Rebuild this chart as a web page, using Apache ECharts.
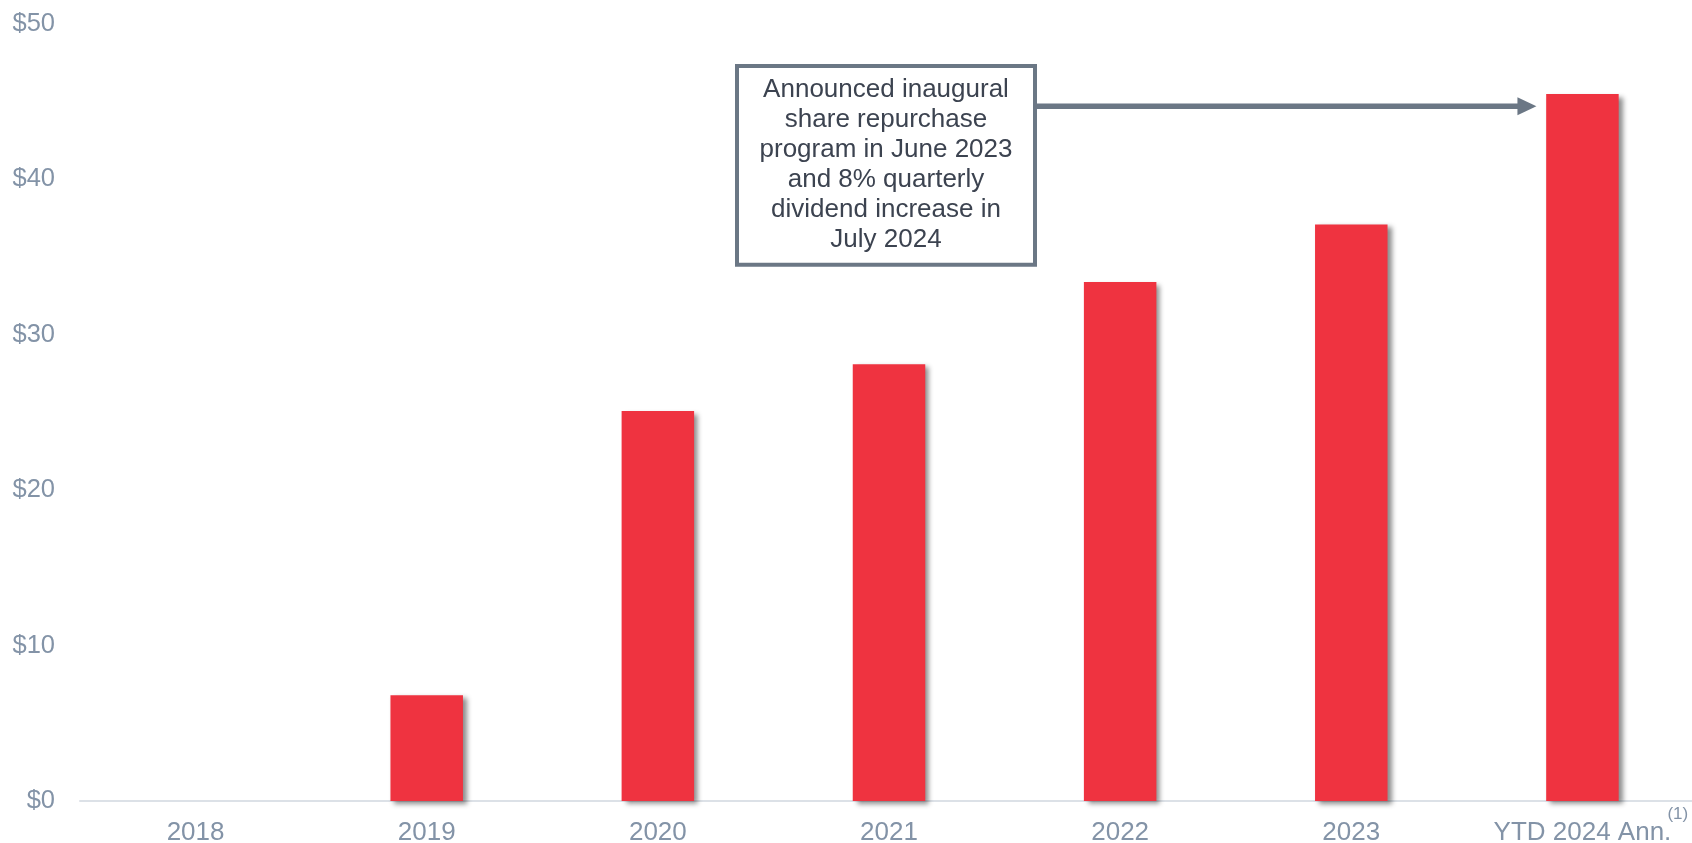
<!DOCTYPE html>
<html><head><meta charset="utf-8">
<script src="https://cdn.jsdelivr.net/npm/echarts@6/dist/echarts.min.js"></script>
<style>html,body{margin:0;padding:0;background:#fff}#c{width:1692px;height:843px}</style>
</head><body><div id="c"></div>
<script>
const categories = ['2018', '2019', '2020', '2021', '2022', '2023', 'YTD 2024 Ann.'];
const values = [0, 6.8, 25.1, 28.1, 33.4, 37.1, 45.5];
const yTicks = [0, 10, 20, 30, 40, 50];
const noteLines = ['Announced inaugural', 'share repurchase', 'program in June 2023', 'and 8% quarterly', 'dividend increase in', 'July 2024'];
const footnote = '(1)';

const FONT = '"Liberation Sans", Arial, sans-serif';
const LABEL = '#8393A7';
const chart = echarts.init(document.getElementById('c'));
chart.setOption({
  animation: false,
  grid: { left: 80, width: 1618, top: 24, bottom: 42, containLabel: false, outerBoundsMode: 'none' },
  xAxis: {
    type: 'category', data: categories,
    axisLine: { show: true, lineStyle: { color: '#DCE1E7', width: 2 } },
    axisTick: { show: false },
    axisLabel: { color: LABEL, fontSize: 26, fontFamily: FONT, margin: 19, interval: 0 }
  },
  yAxis: {
    type: 'value', min: yTicks[0], max: yTicks[yTicks.length - 1], interval: 10,
    axisLine: { show: false }, axisTick: { show: false }, splitLine: { show: false },
    axisLabel: { color: LABEL, fontSize: 25.5, fontFamily: FONT, margin: 25, formatter: v => '$' + v }
  },
  series: [{
    type: 'bar', data: values, barWidth: 72.5,
    itemStyle: { color: '#EF3340', shadowColor: 'rgba(0,0,0,0.45)', shadowBlur: 5, shadowOffsetX: 4, shadowOffsetY: 3 }
  }]
});

const lastX = chart.convertToPixel({ xAxisIndex: 0 }, categories[categories.length - 1]);
const boxCx = chart.convertToPixel({ xAxisIndex: 0 }, '2021') - 3;
const boxTop = chart.convertToPixel({ yAxisIndex: 0 }, 47.3);
const boxBot = chart.convertToPixel({ yAxisIndex: 0 }, 34.5);
const arrowY = chart.convertToPixel({ yAxisIndex: 0 }, 44.7);
const boxW = 298;
const tipX = lastX - 36 - 10;
const axisY = chart.convertToPixel({ yAxisIndex: 0 }, 0);
const BORDER = '#6B7785';

chart.setOption({
  graphic: [
    { type: 'line', shape: { x1: boxCx + boxW / 2, y1: arrowY, x2: tipX - 16, y2: arrowY },
      style: { stroke: BORDER, lineWidth: 5.5 } },
    { type: 'polygon', shape: { points: [[tipX - 19, arrowY - 9], [tipX, arrowY], [tipX - 19, arrowY + 9]] },
      style: { fill: BORDER } },
    { type: 'rect', shape: { x: boxCx - boxW / 2, y: boxTop, width: boxW, height: boxBot - boxTop },
      style: { fill: '#fff', stroke: BORDER, lineWidth: 4 } },
    { type: 'text', style: { text: noteLines.join('\n'), x: boxCx, y: (boxTop + boxBot) / 2 - 1, align: 'center', verticalAlign: 'middle',
      font: '26px ' + FONT, lineHeight: 30, fill: '#3C4350' } },
    { type: 'text', style: { text: footnote, x: lastX + 85, y: axisY + 5, align: 'left', verticalAlign: 'top',
      font: '17px ' + FONT, fill: LABEL } }
  ]
});
</script></body></html>
